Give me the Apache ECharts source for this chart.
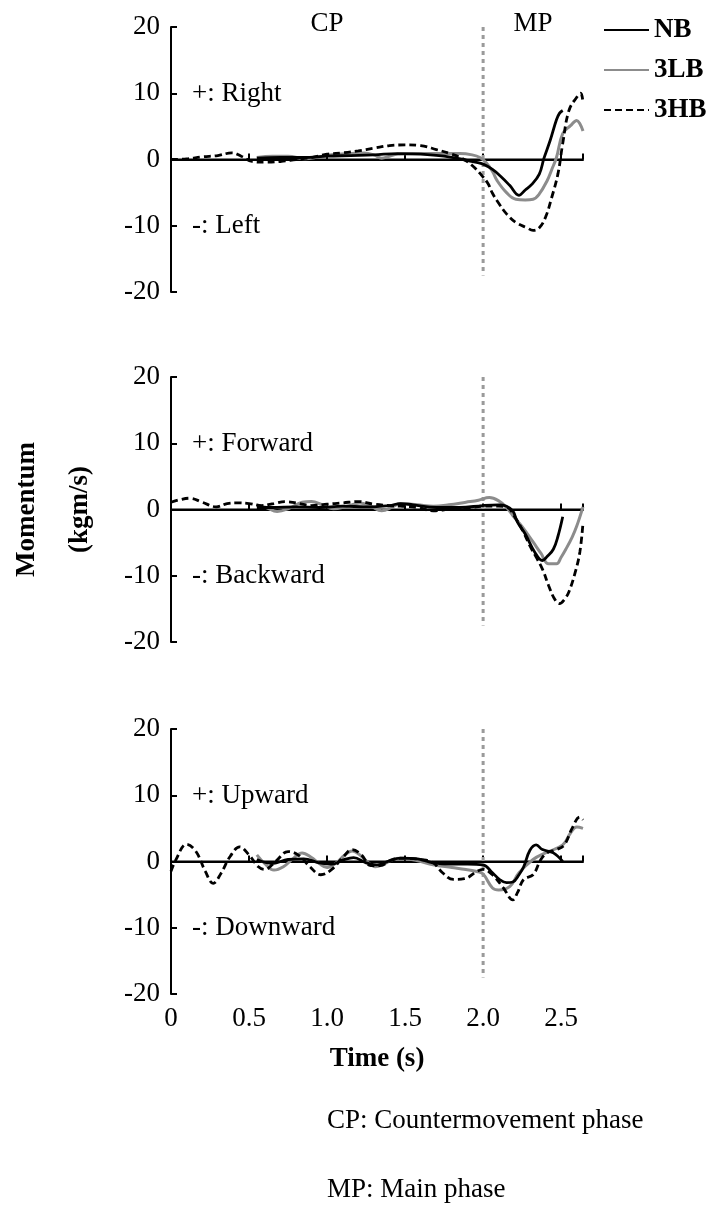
<!DOCTYPE html>
<html>
<head>
<meta charset="utf-8">
<script src="https://cdn.jsdelivr.net/npm/echarts@6/dist/echarts.min.js"></script>
<style>
  html, body { margin: 0; padding: 0; background: #fff; }
  #chart { width: 719px; height: 1209px; }
</style>
</head>
<body>
<div id="chart"></div>
<script>
// ---- Time axis ----
const X_MAX = 2.64;
const X_TICK_LABELS = ['0', '0.5', '1.0', '1.5', '2.0', '2.5'];
const PHASE_SPLIT = 2.0;

// ---- Medio-lateral momentum (+ right / - left), [time s, kgm/s] ----
const rlNB = [[0.55,0.2],[0.7,0.3],[0.85,0.3],[1.0,0.5],[1.15,0.6],[1.3,0.7],[1.45,0.9],[1.6,0.8],[1.75,0.5],[1.87,0.0],[1.95,-0.4],[2.0,-0.7],[2.06,-1.5],[2.11,-2.5],[2.17,-3.9],[2.23,-5.4],[2.27,-4.6],[2.31,-3.8],[2.36,-2.2],[2.39,0.2],[2.43,2.9],[2.47,6.0],[2.49,7.0],[2.51,7.4]];
const rl3LB = [[0.55,0.3],[0.65,0.5],[0.75,0.5],[0.86,0.1],[0.95,0.4],[1.03,0.7],[1.15,0.9],[1.24,1.0],[1.3,0.7],[1.35,0.2],[1.4,0.5],[1.45,0.8],[1.55,0.9],[1.7,0.9],[1.85,0.9],[1.93,0.7],[1.98,0.3],[2.02,-0.5],[2.06,-1.8],[2.09,-3.2],[2.15,-5.0],[2.21,-6.0],[2.27,-6.1],[2.32,-6.0],[2.36,-5.2],[2.41,-3.2],[2.44,-1.5],[2.47,0.3],[2.51,3.9],[2.56,5.1],[2.6,5.9],[2.62,5.4],[2.64,4.3]];
const rl3HB = [[0,0.0],[0.1,0.1],[0.2,0.4],[0.3,0.6],[0.39,1.0],[0.45,0.5],[0.52,-0.3],[0.6,-0.4],[0.7,-0.3],[0.8,0.0],[0.9,0.3],[1.0,0.8],[1.1,1.0],[1.2,1.3],[1.3,1.7],[1.4,2.1],[1.5,2.2],[1.6,2.1],[1.7,1.5],[1.8,0.8],[1.87,0.1],[1.93,-0.9],[1.98,-2.1],[2.03,-3.6],[2.06,-5.1],[2.1,-6.6],[2.15,-8.2],[2.21,-9.5],[2.28,-10.3],[2.32,-10.7],[2.36,-10.3],[2.4,-8.7],[2.44,-5.7],[2.48,-2.1],[2.51,2.4],[2.55,7.4],[2.6,9.4],[2.625,10.0],[2.64,8.6]];

// ---- Antero-posterior momentum (+ forward / - backward) ----
const fbNB = [[0.55,0.3],[0.65,0.3],[0.8,0.4],[0.95,0.3],[1.1,0.5],[1.25,0.4],[1.4,0.6],[1.47,0.9],[1.55,0.7],[1.7,0.3],[1.85,0.3],[2.0,0.6],[2.1,0.7],[2.15,0.5],[2.19,-0.2],[2.22,-1.9],[2.27,-3.7],[2.33,-6.4],[2.38,-7.7],[2.41,-7.1],[2.45,-6.0],[2.48,-4.0],[2.51,-1.1]];
const fb3LB = [[0.55,0.7],[0.61,0.3],[0.68,-0.3],[0.76,0.2],[0.84,1.1],[0.9,1.2],[0.97,0.7],[1.04,0.1],[1.13,0.5],[1.21,1.0],[1.28,0.5],[1.35,-0.2],[1.42,0.4],[1.47,0.9],[1.58,0.7],[1.68,0.5],[1.78,0.7],[1.89,1.1],[1.97,1.4],[2.04,1.8],[2.1,1.3],[2.15,0.3],[2.19,-0.9],[2.25,-2.6],[2.32,-4.9],[2.37,-6.6],[2.42,-8.2],[2.47,-8.2],[2.5,-7.2],[2.53,-6.0],[2.57,-4.2],[2.6,-2.5],[2.64,0.4]];
const fb3HB = [[0,1.1],[0.06,1.5],[0.12,1.7],[0.2,1.1],[0.29,0.4],[0.36,0.9],[0.42,1.0],[0.5,0.9],[0.58,0.6],[0.66,0.9],[0.73,1.2],[0.8,1.0],[0.9,0.6],[1.0,0.8],[1.1,1.0],[1.2,1.2],[1.3,0.8],[1.4,0.6],[1.47,0.5],[1.58,0.3],[1.68,-0.2],[1.8,0.1],[1.9,0.2],[2.0,0.5],[2.1,0.5],[2.15,0.4],[2.21,-1.4],[2.26,-3.5],[2.3,-5.5],[2.34,-7.2],[2.38,-9.0],[2.42,-11.5],[2.46,-13.6],[2.49,-14.2],[2.52,-13.6],[2.55,-12.4],[2.59,-9.5],[2.62,-6.4],[2.64,-2.0]];

// ---- Vertical momentum (+ upward / - downward) ----
const udNB = [[0.55,0.3],[0.65,-0.3],[0.75,0.3],[0.85,0.4],[0.95,-0.2],[1.03,-0.4],[1.1,0.2],[1.17,0.6],[1.25,-0.2],[1.32,-0.5],[1.4,0.1],[1.47,0.5],[1.58,0.4],[1.68,-0.2],[1.8,-0.4],[1.9,-0.4],[2.0,-0.5],[2.06,-1.7],[2.11,-2.8],[2.15,-3.2],[2.19,-3.1],[2.23,-2.0],[2.26,-0.8],[2.3,1.7],[2.34,2.5],[2.38,1.8],[2.45,1.3],[2.51,0.0]];
const ud3LB = [[0.55,1.0],[0.6,-0.3],[0.66,-1.3],[0.72,-0.8],[0.78,0.4],[0.84,1.3],[0.9,0.6],[0.95,-0.3],[1.0,-0.9],[1.06,-0.2],[1.11,0.9],[1.16,1.6],[1.22,0.8],[1.27,-0.3],[1.31,-0.8],[1.37,-0.3],[1.42,0.3],[1.47,0.5],[1.58,0.1],[1.68,-0.5],[1.8,-0.9],[1.89,-1.2],[1.96,-1.5],[2.0,-1.9],[2.06,-4.0],[2.1,-4.3],[2.17,-3.8],[2.23,-1.7],[2.32,0.3],[2.4,1.3],[2.51,2.5],[2.56,4.3],[2.6,5.2],[2.64,5.0]];
const ud3HB = [[0,-1.5],[0.03,0.2],[0.1,2.6],[0.16,1.5],[0.22,-1.5],[0.27,-3.3],[0.32,-1.8],[0.38,0.8],[0.44,2.2],[0.5,1.0],[0.56,-0.8],[0.6,-1.2],[0.67,0.0],[0.75,1.5],[0.82,0.9],[0.89,-0.8],[0.96,-2.0],[1.03,-1.2],[1.1,0.6],[1.16,1.8],[1.22,1.0],[1.28,-0.6],[1.34,-0.6],[1.42,0.3],[1.5,0.5],[1.6,0.3],[1.68,-0.2],[1.74,-1.7],[1.81,-2.7],[1.88,-2.6],[1.96,-1.5],[2.0,-1.2],[2.06,-2.0],[2.13,-4.0],[2.19,-5.8],[2.22,-4.7],[2.26,-2.7],[2.32,-2.0],[2.37,0.3],[2.41,1.3],[2.47,1.8],[2.52,2.5],[2.57,5.0],[2.62,6.7],[2.64,6.3]];

const zeroLine = [[0, 0], [X_MAX, 0]];
const phaseLine = [[PHASE_SPLIT, 20], [PHASE_SPLIT, -17.5]];

const panels = [
  { nb: rlNB, lb: rl3LB, hb: rl3HB, pos: '+: Right',   neg: '-: Left' },
  { nb: fbNB, lb: fb3LB, hb: fb3HB, pos: '+: Forward', neg: '-: Backward' },
  { nb: udNB, lb: ud3LB, hb: ud3HB, pos: '+: Upward',  neg: '-: Downward' }
];

const SERIF = '"Liberation Serif", "Times New Roman", "DejaVu Serif", serif';
const FS = 27;
const gridTops = [27, 377, 729];
const GRID_H = 265;
const GRID_LEFT = 171;
const GRID_W = 412;

const grids = [], xAxes = [], yAxes = [], series = [], graphics = [];

panels.forEach((p, i) => {
  const last = i === panels.length - 1;
  grids.push({
    left: GRID_LEFT, top: gridTops[i], width: GRID_W, height: GRID_H,
    containLabel: false, outerBoundsMode: 'none'
  });
  xAxes.push({
    type: 'value', gridIndex: i, min: 0, max: X_MAX, interval: 0.5,
    axisLine: { lineStyle: { color: '#000', width: 2 } },
    axisTick: { inside: true, length: 6, lineStyle: { color: '#000', width: 2 } },
    splitLine: { show: false },
    axisLabel: {
      show: last, margin: 11, color: '#000', fontFamily: SERIF, fontSize: FS,
      formatter: v => {
        const k = Math.round(v / 0.5);
        return Math.abs(v - k * 0.5) < 1e-6 && k < X_TICK_LABELS.length ? X_TICK_LABELS[k] : '';
      }
    },
    name: last ? 'Time (s)' : '',
    nameLocation: 'middle', nameGap: 52,
    nameTextStyle: { color: '#000', fontFamily: SERIF, fontSize: FS, fontWeight: 'bold' }
  });
  yAxes.push({
    type: 'value', gridIndex: i, min: -20, max: 20, interval: 10,
    axisLine: { show: true, lineStyle: { color: '#000', width: 2 } },
    axisTick: { show: true, inside: true, length: 6, lineStyle: { color: '#000', width: 2 } },
    splitLine: { show: false },
    axisLabel: { margin: 11, color: '#000', fontFamily: SERIF, fontSize: FS },
    name: i === 1 ? 'Momentum\n(kgm/s)' : '',
    nameLocation: 'middle', nameRotate: 90, nameGap: 64,
    nameTextStyle: { color: '#000', fontFamily: SERIF, fontSize: FS, fontWeight: 'bold', lineHeight: 53 }
  });

  // reference line at zero and phase boundary
  series.push({
    type: 'line', xAxisIndex: i, yAxisIndex: i, data: zeroLine, symbol: 'none', silent: true,
    lineStyle: { color: '#000', width: 2 }, z: 1
  });
  series.push({
    type: 'line', xAxisIndex: i, yAxisIndex: i, data: phaseLine, symbol: 'none', silent: true,
    lineStyle: { color: '#9a9a9a', width: 3, type: [4, 4] }, z: 1
  });

  series.push({
    name: '3HB', type: 'line', xAxisIndex: i, yAxisIndex: i, data: p.hb, symbol: 'none',
    smooth: 0.4, lineStyle: { color: '#000', width: 2.8, type: [7, 4] }, itemStyle: { color: '#000' }, z: 3
  });
  series.push({
    name: '3LB', type: 'line', xAxisIndex: i, yAxisIndex: i, data: p.lb, symbol: 'none',
    smooth: 0.4, lineStyle: { color: '#8c8c8c', width: 3 }, itemStyle: { color: '#8c8c8c' }, z: 2
  });
  series.push({
    name: 'NB', type: 'line', xAxisIndex: i, yAxisIndex: i, data: p.nb, symbol: 'none',
    smooth: 0.4, lineStyle: { color: '#000', width: 2.8 }, itemStyle: { color: '#000' }, z: 4
  });

  const zeroY = gridTops[i] + GRID_H / 2;
  graphics.push({ type: 'text', x: 192, y: zeroY - 66, style: { text: p.pos, font: FS + 'px ' + SERIF, fill: '#000', verticalAlign: 'middle' } });
  graphics.push({ type: 'text', x: 192, y: zeroY + 66, style: { text: p.neg, font: FS + 'px ' + SERIF, fill: '#000', verticalAlign: 'middle' } });
});

graphics.push({ type: 'text', x: 327, y: 24, style: { text: 'CP', font: FS + 'px ' + SERIF, fill: '#000', align: 'center', verticalAlign: 'middle' } });
graphics.push({ type: 'text', x: 533, y: 24, style: { text: 'MP', font: FS + 'px ' + SERIF, fill: '#000', align: 'center', verticalAlign: 'middle' } });
graphics.push({ type: 'text', x: 327, y: 1121, style: { text: 'CP: Countermovement phase', font: FS + 'px ' + SERIF, fill: '#000', verticalAlign: 'middle' } });
graphics.push({ type: 'text', x: 327, y: 1190, style: { text: 'MP: Main phase', font: FS + 'px ' + SERIF, fill: '#000', verticalAlign: 'middle' } });

const chart = echarts.init(document.getElementById('chart'), null, { renderer: 'canvas' });
chart.setOption({
  animation: false,
  backgroundColor: '#fff',
  grid: grids,
  xAxis: xAxes,
  yAxis: yAxes,
  legend: {
    data: ['NB', '3LB', '3HB'],
    orient: 'vertical', left: 598, top: 11,
    itemWidth: 45, itemHeight: 28, itemGap: 12,
    itemStyle: { opacity: 0 },
    textStyle: { color: '#000', fontFamily: SERIF, fontSize: FS, fontWeight: 'bold', lineHeight: 28 }
  },
  series: series,
  graphic: graphics
});
</script>
</body>
</html>
